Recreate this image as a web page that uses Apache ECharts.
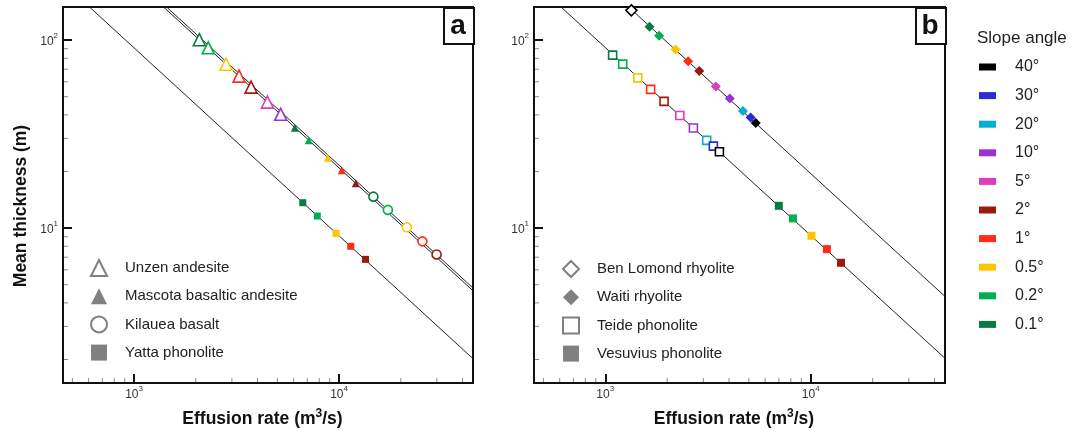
<!DOCTYPE html>
<html>
<head>
<meta charset="utf-8">
<title>Mean thickness vs effusion rate</title>
<script src="https://cdn.jsdelivr.net/npm/echarts@6/dist/echarts.min.js"></script>
<style>
html, body { margin: 0; padding: 0; background: #fff; }
#chart { width: 1073px; height: 431px; }
</style>
</head>
<body>
<div id="chart"></div>
<script>
const X_MIN = 450, X_MAX = 45000;
const Y_MIN = 1.5, Y_MAX = 150;

// slope angle classes, legend order
const slopeLabels = ['40°', '30°', '20°', '10°', '5°', '2°', '1°', '0.5°', '0.2°', '0.1°'];
const slopeColors = {
    '40°': '#000000',
    '30°': '#2a2ad6',
    '20°': '#06aecf',
    '10°': '#9832d6',
    '5°': '#dd3cc0',
    '2°': '#9c1a0c',
    '1°': '#ff2c16',
    '0.5°': '#ffc400',
    '0.2°': '#00b04f',
    '0.1°': '#0a7a40'
};

// panel a
const unzenQ = [2080, 2300, 2810, 3250, 3720, 4470, 5190];
const unzenH = [100.5, 91, 74.4, 64.3, 56.2, 46.8, 40.3];
const unzenSlope = ['0.1°', '0.2°', '0.5°', '1°', '2°', '5°', '10°'];

const mascotaQ = [6080, 7110, 8810, 10300, 12070];
const mascotaH = [34.2, 29.3, 23.7, 20.3, 17.3];
const mascotaSlope = ['0.1°', '0.2°', '0.5°', '1°', '2°'];

const kilaueaQ = [14700, 17300, 21400, 25500, 29900];
const kilaueaH = [14.7, 12.5, 10.1, 8.5, 7.24];
const kilaueaSlope = ['0.1°', '0.2°', '0.5°', '1°', '2°'];

const yattaQ = [6650, 7830, 9670, 11400, 13450];
const yattaH = [13.65, 11.6, 9.37, 8.0, 6.82];
const yattaSlope = ['0.1°', '0.2°', '0.5°', '1°', '2°'];

// panel b
const benQ = [1340];
const benH = [144];
const benSlope = ['40°'];

const waitiQ = [1643, 1828, 2197, 2532, 2867, 3451, 4036, 4677, 5098, 5398];
const waitiH = [117.7, 105.5, 89, 77.3, 68.4, 56.7, 48.9, 42, 38.7, 36.2];
const waitiSlope = ['0.1°', '0.2°', '0.5°', '1°', '2°', '5°', '10°', '20°', '30°', '40°'];

const teideQ = [1086, 1216, 1440, 1662, 1932, 2306, 2685, 3116, 3357, 3593];
const teideH = [83.2, 74.5, 63, 54.7, 47.2, 39.7, 34.1, 29.3, 27.3, 25.5];
const teideSlope = ['0.1°', '0.2°', '0.5°', '1°', '2°', '5°', '10°', '20°', '30°', '40°'];

const vesuviusQ = [6990, 8190, 10080, 11980, 14030];
const vesuviusH = [13.14, 11.26, 9.1, 7.73, 6.54];
const vesuviusSlope = ['0.1°', '0.2°', '0.5°', '1°', '2°'];

// model lines, end points at the axis limits
const lineA1 = [[450, 464], [45000, 4.64]];
const lineA2 = [[450, 480], [45000, 4.80]];
const lineA3 = [[450, 202], [45000, 2.02]];
const lineB1 = [[450, 433], [45000, 4.33]];
const lineB2 = [[450, 203], [45000, 2.03]];

const xMinor = [500, 600, 700, 800, 900, 2000, 3000, 4000, 5000, 6000, 7000, 8000, 9000, 20000, 30000, 40000];
const yMinor = [2, 3, 4, 5, 6, 7, 8, 9, 20, 30, 40, 50, 60, 70, 80, 90];

const FONT = '"Liberation Sans", Arial, Helvetica, sans-serif';
const GRAY = '#808080';

var pts = function(qs, hs, slopes, hollow) {
    return qs.map(function(q, i) {
        let c = slopeColors[slopes[i]];
        return {
            value: [q, hs[i]],
            itemStyle: hollow ? { borderColor: c } : { color: c }
        };
    });
};

var powLabel = function(v) {
    let e = Math.round(Math.log10(v));
    if (Math.abs(v - Math.pow(10, e)) > 1e-6 * v) return '';
    return '{b|10}{s|' + e + '}';
};

var labelRich = {
    b: { fontSize: 12, color: '#333', lineHeight: 16, verticalAlign: 'bottom', fontFamily: FONT },
    s: { fontSize: 8, color: '#333', lineHeight: 16, verticalAlign: 'top', fontFamily: FONT }
};

var makeX = function(gi) {
    return {
        type: 'log', logBase: 10, gridIndex: gi, min: X_MIN, max: X_MAX,
        name: '{t|Effusion rate (m}{s|3}{t|/s)}',
        nameLocation: 'middle', nameGap: 25,
        nameTextStyle: {
            padding: [0, 11, 0, 0],
            rich: {
                t: { fontSize: 17.5, fontWeight: 'bold', color: '#111', lineHeight: 20, verticalAlign: 'bottom', fontFamily: FONT },
                s: { fontSize: 12, fontWeight: 'bold', color: '#111', lineHeight: 20, verticalAlign: 'top', fontFamily: FONT }
            }
        },
        axisLine: { show: true, lineStyle: { color: '#111', width: 2 } },
        axisTick: { show: true, inside: true, length: 9, lineStyle: { color: '#111', width: 2 } },
        axisLabel: { formatter: powLabel, rich: labelRich, margin: 2, showMinLabel: false, showMaxLabel: false },
        splitLine: { show: false },
        minorTick: { show: false }
    };
};

var makeY = function(gi, withName) {
    let ax = {
        type: 'log', logBase: 10, gridIndex: gi, min: Y_MIN, max: Y_MAX,
        axisLine: { show: true, lineStyle: { color: '#111', width: 2 } },
        axisTick: { show: true, inside: true, length: 9, lineStyle: { color: '#111', width: 2 } },
        axisLabel: { formatter: powLabel, rich: labelRich, margin: 5, showMinLabel: false, showMaxLabel: false },
        splitLine: { show: false }
    };
    if (withName) {
        ax.name = 'Mean thickness (m)';
        ax.nameLocation = 'middle';
        ax.nameRotate = 90;
        ax.nameGap = 32;
        ax.nameTextStyle = {
            fontSize: 17.5, fontWeight: 'bold', color: '#111', fontFamily: FONT,
            lineHeight: 20, padding: [0, 22, 0, 0]
        };
    }
    return ax;
};

var lineSeries = function(gi, data) {
    return {
        type: 'line', xAxisIndex: gi, yAxisIndex: gi, data: data,
        symbol: 'none', silent: true, z: 1,
        lineStyle: { color: '#222', width: 1 }
    };
};

var scatter = function(gi, name, symbol, size, hollow, data) {
    return {
        type: 'scatter', name: name, xAxisIndex: gi, yAxisIndex: gi,
        symbol: symbol, symbolSize: size, data: data, z: 3, silent: true,
        itemStyle: hollow
            ? { color: '#fff', borderColor: GRAY, borderWidth: 1.6, opacity: 1 }
            : { color: GRAY, borderWidth: 0, opacity: 1 }
    };
};

var minorTicks = function(gi, vals, dir) {
    return {
        type: 'custom', xAxisIndex: gi, yAxisIndex: gi, silent: true, z: 5,
        data: vals.map(function(v) { return dir === 'x' ? [v, Y_MIN] : [X_MIN, v]; }),
        renderItem: function(params, api) {
            let p = api.coord([api.value(0), api.value(1)]);
            let shape = dir === 'x'
                ? { x1: p[0], y1: p[1] - 1, x2: p[0], y2: p[1] - 5 }
                : { x1: p[0] + 1, y1: p[1], x2: p[0] + 5, y2: p[1] };
            return { type: 'line', shape: shape, style: { stroke: '#8a8a8a', lineWidth: 1 } };
        }
    };
};

let series = [
    lineSeries(0, lineA1),
    lineSeries(0, lineA2),
    lineSeries(0, lineA3),
    lineSeries(1, lineB1),
    lineSeries(1, lineB2),
    scatter(0, 'Unzen andesite', 'triangle', 12, true, pts(unzenQ, unzenH, unzenSlope, true)),
    scatter(0, 'Mascota basaltic andesite', 'triangle', 8, false, pts(mascotaQ, mascotaH, mascotaSlope, false)),
    scatter(0, 'Kilauea basalt', 'circle', 9, true, pts(kilaueaQ, kilaueaH, kilaueaSlope, true)),
    scatter(0, 'Yatta phonolite', 'rect', 7, false, pts(yattaQ, yattaH, yattaSlope, false)),
    scatter(1, 'Ben Lomond rhyolite', 'diamond', 11, true, pts(benQ, benH, benSlope, true)),
    scatter(1, 'Waiti rhyolite', 'diamond', 10, false, pts(waitiQ, waitiH, waitiSlope, false)),
    scatter(1, 'Teide phonolite', 'rect', 8, true, pts(teideQ, teideH, teideSlope, true)),
    scatter(1, 'Vesuvius phonolite', 'rect', 8, false, pts(vesuviusQ, vesuviusH, vesuviusSlope, false)),
    minorTicks(0, xMinor, 'x'),
    minorTicks(0, yMinor, 'y'),
    minorTicks(1, xMinor, 'x'),
    minorTicks(1, yMinor, 'y')
];

// empty series only to feed the slope angle legend
slopeLabels.forEach(function(s) {
    series.push({
        type: 'scatter', name: s, xAxisIndex: 1, yAxisIndex: 1, data: [],
        itemStyle: { color: slopeColors[s], opacity: 1 }
    });
});

var rockLegend = function(left, top, names) {
    return {
        orient: 'vertical', left: left, top: top, padding: 0,
        itemWidth: 16, itemHeight: 16, itemGap: 11.2,
        selectedMode: false,
        data: names,
        textStyle: { fontSize: 15, color: '#222', fontFamily: FONT, lineHeight: 16, padding: [0, 0, 0, 13] }
    };
};

var panelTag = function(x, txt) {
    return [
        { type: 'rect', left: x, top: 7, z: 10, shape: { width: 30, height: 36 },
          style: { fill: '#fff', stroke: '#111', lineWidth: 2 } },
        { type: 'text', x: x + 15, y: 26, z: 11,
          style: { text: txt, fontSize: 28, fontWeight: 'bold', fill: '#111', fontFamily: FONT,
                   align: 'center', verticalAlign: 'middle' } }
    ];
};

let option = {
    animation: false,
    textStyle: { fontFamily: FONT },
    title: {
        text: 'Slope angle', left: 977, top: 30, padding: 0,
        textStyle: { fontSize: 17, fontWeight: 'normal', color: '#222', fontFamily: FONT }
    },
    grid: [
        { left: 63, top: 7, width: 410, height: 376, show: true, borderColor: '#111', borderWidth: 2, backgroundColor: '#fff', outerBoundsMode: 'none' },
        { left: 534, top: 7, width: 411, height: 376, show: true, borderColor: '#111', borderWidth: 2, backgroundColor: '#fff', outerBoundsMode: 'none' }
    ],
    xAxis: [makeX(0), makeX(1)],
    yAxis: [makeY(0, true), makeY(1, false)],
    legend: [
        rockLegend(90, 259, ['Unzen andesite', 'Mascota basaltic andesite', 'Kilauea basalt', 'Yatta phonolite']),
        rockLegend(562, 260, ['Ben Lomond rhyolite', 'Waiti rhyolite', 'Teide phonolite', 'Vesuvius phonolite']),
        {
            orient: 'vertical', left: 979, top: 58, padding: 0,
            itemWidth: 17, itemHeight: 7, itemGap: 10.6,
            selectedMode: false, icon: 'rect',
            data: slopeLabels,
            textStyle: { fontSize: 16, color: '#222', fontFamily: FONT, lineHeight: 18, padding: [0, 0, 0, 14] }
        }
    ],
    graphic: panelTag(443, 'a').concat(panelTag(915, 'b')),
    series: series
};

var myChart = echarts.init(document.getElementById('chart'));
myChart.setOption(option);
</script>
</body>
</html>
